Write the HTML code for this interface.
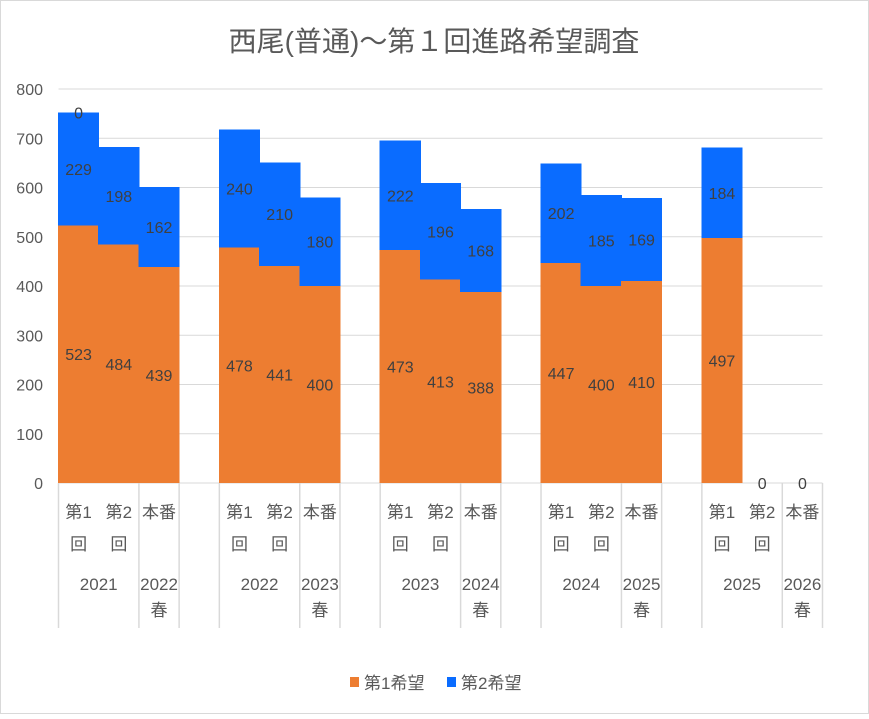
<!DOCTYPE html>
<html><head><meta charset="utf-8"><style>
body{margin:0;background:#fff}
svg text{font-family:"Liberation Sans","Noto Sans CJK JP",sans-serif}
</style></head><body>
<svg id="chart" width="869" height="714" xmlns="http://www.w3.org/2000/svg">
<rect x="0.5" y="0.5" width="868" height="713" fill="#fff" stroke="#d9d9d9"/>
<text x="434" y="51" font-size="28" fill="#595959" text-anchor="middle">西尾(普通)～第１回進路希望調査</text>
<g id="grid"></g><g id="bars" shape-rendering="crispEdges"></g><g id="labels"></g><g id="axis"></g>
<g>
<rect x="350" y="677" width="9" height="10" fill="#ED7D31"/>
<text x="364" y="689" font-size="17" fill="#595959">第1希望</text>
<rect x="447" y="677" width="9" height="10" fill="#0A6CFF"/>
<text x="461" y="689" font-size="17" fill="#595959">第2希望</text>
</g>
</svg>
<script>
const subLabels = [["第1","回"],["第2","回"],["本番",""],null,["第1","回"],["第2","回"],["本番",""],null,["第1","回"],["第2","回"],["本番",""],null,["第1","回"],["第2","回"],["本番",""],null,["第1","回"],["第2","回"],["本番",""]];
const groupLabels = [["2021","",0,2],["2022","春",2,1],["2022","",4,2],["2023","春",6,1],["2023","",8,2],["2024","春",10,1],["2024","",12,2],["2025","春",14,1],["2025","",16,2],["2026","春",18,1]];
const first = [523,484,439,null,478,441,400,null,473,413,388,null,447,400,410,null,497,0,0];
const second = [229,198,162,null,240,210,180,null,222,196,168,null,202,185,169,null,184,null,null];
const third = [0,null,null,null,null,null,null,null,null,null,null,null,null,null,null,null,null,null,null];
const yTicks = [0,100,200,300,400,500,600,700,800];

const NS="http://www.w3.org/2000/svg";
const X0=58.5, X1=822.5, Y0=483, Y1=89, N=subLabels.length, SW=(X1-X0)/N;
const y=v=>Y0-(v/800)*(Y0-Y1);
const x=i=>X0+i*SW;
function mk(tag,attrs,parent,txt){const e=document.createElementNS(NS,tag);for(const k in attrs)e.setAttribute(k,attrs[k]);if(txt!=null)e.textContent=txt;document.getElementById(parent).appendChild(e);return e;}

yTicks.forEach(t=>{
  const l=mk('line',{x1:X0,x2:X1,y1:y(t),y2:y(t),stroke:'#d9d9d9','stroke-width':1},'grid');
  
  
  const tx=mk('text',{x:43,y:y(t)+6,'font-size':16,fill:'#595959','text-anchor':'end'},'axis',String(t));
  
  
});

for(let i=0;i<N;i++){
  if(first[i]==null)continue;
  const f=first[i], s=second[i]||0;
  if(f>0){const r=mk('rect',{x:x(i)-0.5,y:y(f),width:SW+1,height:Y0-y(f),fill:'#ED7D31'},'bars');
    
    }
  if(s>0){const r=mk('rect',{x:x(i)-0.5,y:y(f+s),width:SW+1,height:y(f)-y(f+s),fill:'#0A6CFF'},'bars');
    
    }
  const cx=x(i)+SW/2;
  const t1=mk('text',{x:cx,y:(f>0?(Y0+y(f))/2:Y0)+6,'font-size':16,fill:'#404040','text-anchor':'middle'},'labels',String(f));
  
  
  if(second[i]!=null){const t2=mk('text',{x:cx,y:(y(f)+y(f+s))/2+6,'font-size':16,fill:'#404040','text-anchor':'middle'},'labels',String(s));
    
    }
  if(third[i]!=null){const t3=mk('text',{x:cx,y:y(f+s+third[i])+6,'font-size':16,fill:'#404040','text-anchor':'middle'},'labels',String(third[i]));
    
    }
}

const bounds=new Set();
groupLabels.forEach(g=>{bounds.add(g[2]);bounds.add(g[2]+g[3]);});
bounds.forEach(b=>{const l=mk('line',{x1:x(b),x2:x(b),y1:Y0,y2:628,stroke:'#d9d9d9','stroke-width':1.5},'axis');
  
  });

subLabels.forEach((s,i)=>{
  if(!s)return;
  const cx=x(i)+SW/2;
  const a=mk('text',{x:cx,y:518,'font-size':17,fill:'#595959','text-anchor':'middle'},'axis',s[0]);
  
  
  if(s[1]){const b=mk('text',{x:cx,y:550,'font-size':17,fill:'#595959','text-anchor':'middle'},'axis',s[1]);
    
    }
});
groupLabels.forEach((g,k)=>{
  const cx=x(g[2])+g[3]*SW/2;
  const a=mk('text',{x:cx,y:590,'font-size':17,fill:'#595959','text-anchor':'middle'},'axis',g[0]);
  
  
  if(g[1]){const b=mk('text',{x:cx,y:616,'font-size':17,fill:'#595959','text-anchor':'middle'},'axis',g[1]);
    
    }
});
</script>
</body></html>
